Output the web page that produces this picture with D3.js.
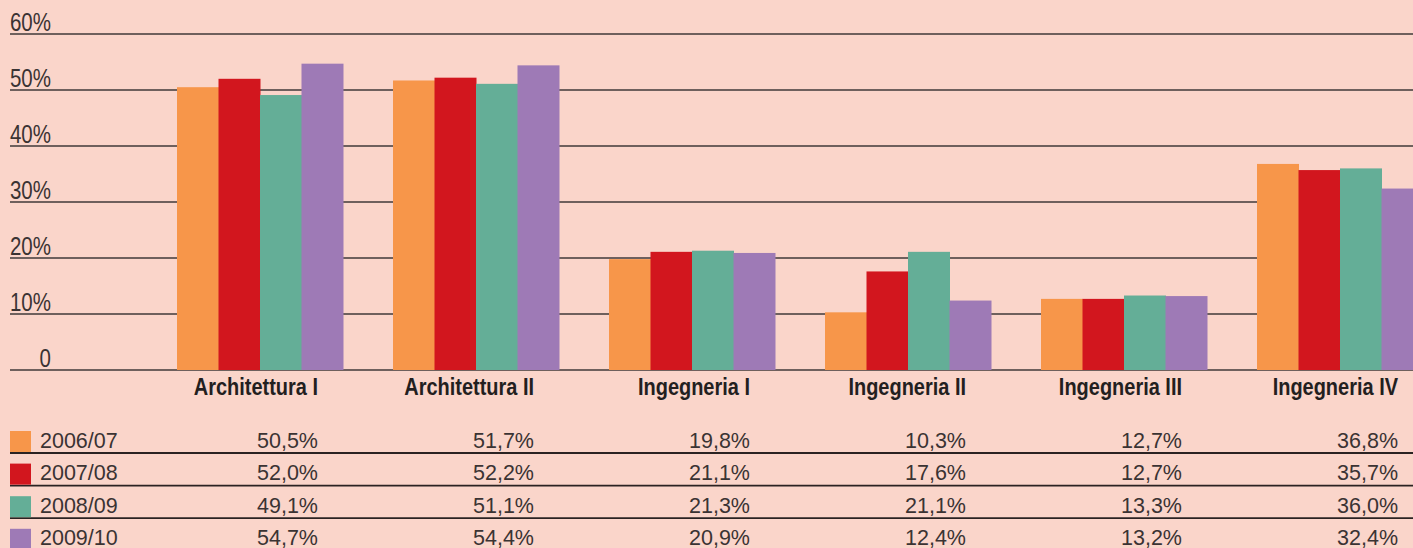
<!DOCTYPE html>
<html>
<head>
<meta charset="utf-8">
<script src="https://cdn.jsdelivr.net/npm/d3@7"></script>
<style>
	html, body { margin: 0; padding: 0; background: #fad5ca; overflow: hidden; }
	svg { display: block; }
</style>
</head>
<body>
<div id="chart-box"></div>
<script>
// DATA
const categories = ["Architettura I", "Architettura II", "Ingegneria I", "Ingegneria II", "Ingegneria III", "Ingegneria IV"];
const years = ["2006/07", "2007/08", "2008/09", "2009/10"];
const values0607 = [50.5, 51.7, 19.8, 10.3, 12.7, 36.8];
const values0708 = [52.0, 52.2, 21.1, 17.6, 12.7, 35.7];
const values0809 = [49.1, 51.1, 21.3, 21.1, 13.3, 36.0];
const values0910 = [54.7, 54.4, 20.9, 12.4, 13.2, 32.4];
const yTicks = [0, 10, 20, 30, 40, 50, 60];

const series = [values0607, values0708, values0809, values0910];
const colors = ["#f7964a", "#d2161e", "#64ae97", "#9e7ab6"];


/** DRAW CHART
	* bars + gridlines on top, value table underneath
	* (no narrow font installed -> squeeze Liberation Sans with scaleX)
	*/
function drawChart() {
	const width = 1413;
	const height = 548;
	const svg = d3.select("#chart-box")
		.append("svg")
		.attr("width", width)
		.attr("height", height);

	const it = d3.formatLocale({ decimal: ",", thousands: ".", grouping: [3], currency: ["", "€"] });
	const fmt = it.format(".1f");
	const font = "'Liberation Sans', Arial, sans-serif";

	// SCALES
	const x = d3.scaleBand()
		.domain(categories)
		.range([177, 1423])
		.paddingInner(0.2315)
		.paddingOuter(0);
	const xSub = d3.scaleBand()
		.domain(years)
		.range([0, x.bandwidth()]);
	const y = d3.scaleLinear()
		.domain([0, 60])
		.range([370, 34]);

	// GRIDLINES
	svg.append("g")
		.selectAll("line")
		.data(yTicks)
		.enter()
		.append("line")
			.attr("x1", 10)
			.attr("x2", width)
			.attr("y1", d => y(d))
			.attr("y2", d => y(d))
			.attr("stroke", "#3f3838")
			.attr("stroke-width", 1.4);

	svg.append("g")
		.selectAll("text")
		.data(yTicks)
		.enter()
		.append("text")
			.attr("transform", d => `translate(51,${y(d) - 3}) scale(0.82,1)`)
			.attr("text-anchor", "end")
			.attr("font-family", font)
			.attr("font-size", 25)
			.attr("fill", "#3a3333")
			.text(d => d === 0 ? "0" : d + "%");

	// BARS
	const groups = svg.append("g")
		.selectAll("g")
		.data(categories)
		.enter()
		.append("g")
			.attr("transform", d => `translate(${x(d)},0)`);

	groups.selectAll("rect")
		.data((c, ci) => years.map((yr, si) => ({ yr, si, v: series[si][ci] })))
		.enter()
		.append("rect")
			.attr("x", d => xSub(d.yr))
			.attr("width", xSub.bandwidth() + 0.5)
			.attr("y", d => y(d.v))
			.attr("height", d => y(0) - y(d.v))
			.attr("fill", d => colors[d.si]);

	// CATEGORY LABELS
	svg.append("g")
		.selectAll("text")
		.data(categories)
		.enter()
		.append("text")
			.attr("transform", d => `translate(${x(d) + x.bandwidth() - 25},395) scale(0.85,1)`)
			.attr("text-anchor", "end")
			.attr("font-family", font)
			.attr("font-weight", "bold")
			.attr("font-size", 23.5)
			.attr("fill", "#231f1f")
			.text(d => d);

	// TABLE
	const rowTop = 431;
	const rowStep = 32.6;
	const table = svg.append("g");

	table.selectAll("line")
		.data(years.slice(0, 3))
		.enter()
		.append("line")
			.attr("x1", 10)
			.attr("x2", width)
			.attr("y1", (d, i) => rowTop + 22 + i * rowStep)
			.attr("y2", (d, i) => rowTop + 22 + i * rowStep)
			.attr("stroke", "#2a2222")
			.attr("stroke-width", 1.8);

	const rows = table.selectAll("g.row")
		.data(years)
		.enter()
		.append("g")
			.attr("class", "row")
			.attr("transform", (d, i) => `translate(0,${rowTop + i * rowStep})`);

	rows.append("rect")
		.attr("x", 10)
		.attr("y", 0)
		.attr("width", 21)
		.attr("height", 21)
		.attr("fill", (d, i) => colors[i]);

	rows.append("text")
		.attr("x", 40)
		.attr("y", 16.5)
		.attr("font-family", font)
		.attr("font-size", 21.5)
		.attr("fill", "#3a3333")
		.text(d => d);

	rows.selectAll("text.val")
		.data((d, i) => series[i])
		.enter()
		.append("text")
			.attr("class", "val")
			.attr("x", (d, ci) => x(categories[ci]) + x.bandwidth() - 25)
			.attr("y", 16.5)
			.attr("text-anchor", "end")
			.attr("font-family", font)
			.attr("font-size", 21.5)
			.attr("fill", "#3a3333")
			.text(d => fmt(d) + "%");
}

document.addEventListener("DOMContentLoaded", drawChart);
</script>
</body>
</html>
